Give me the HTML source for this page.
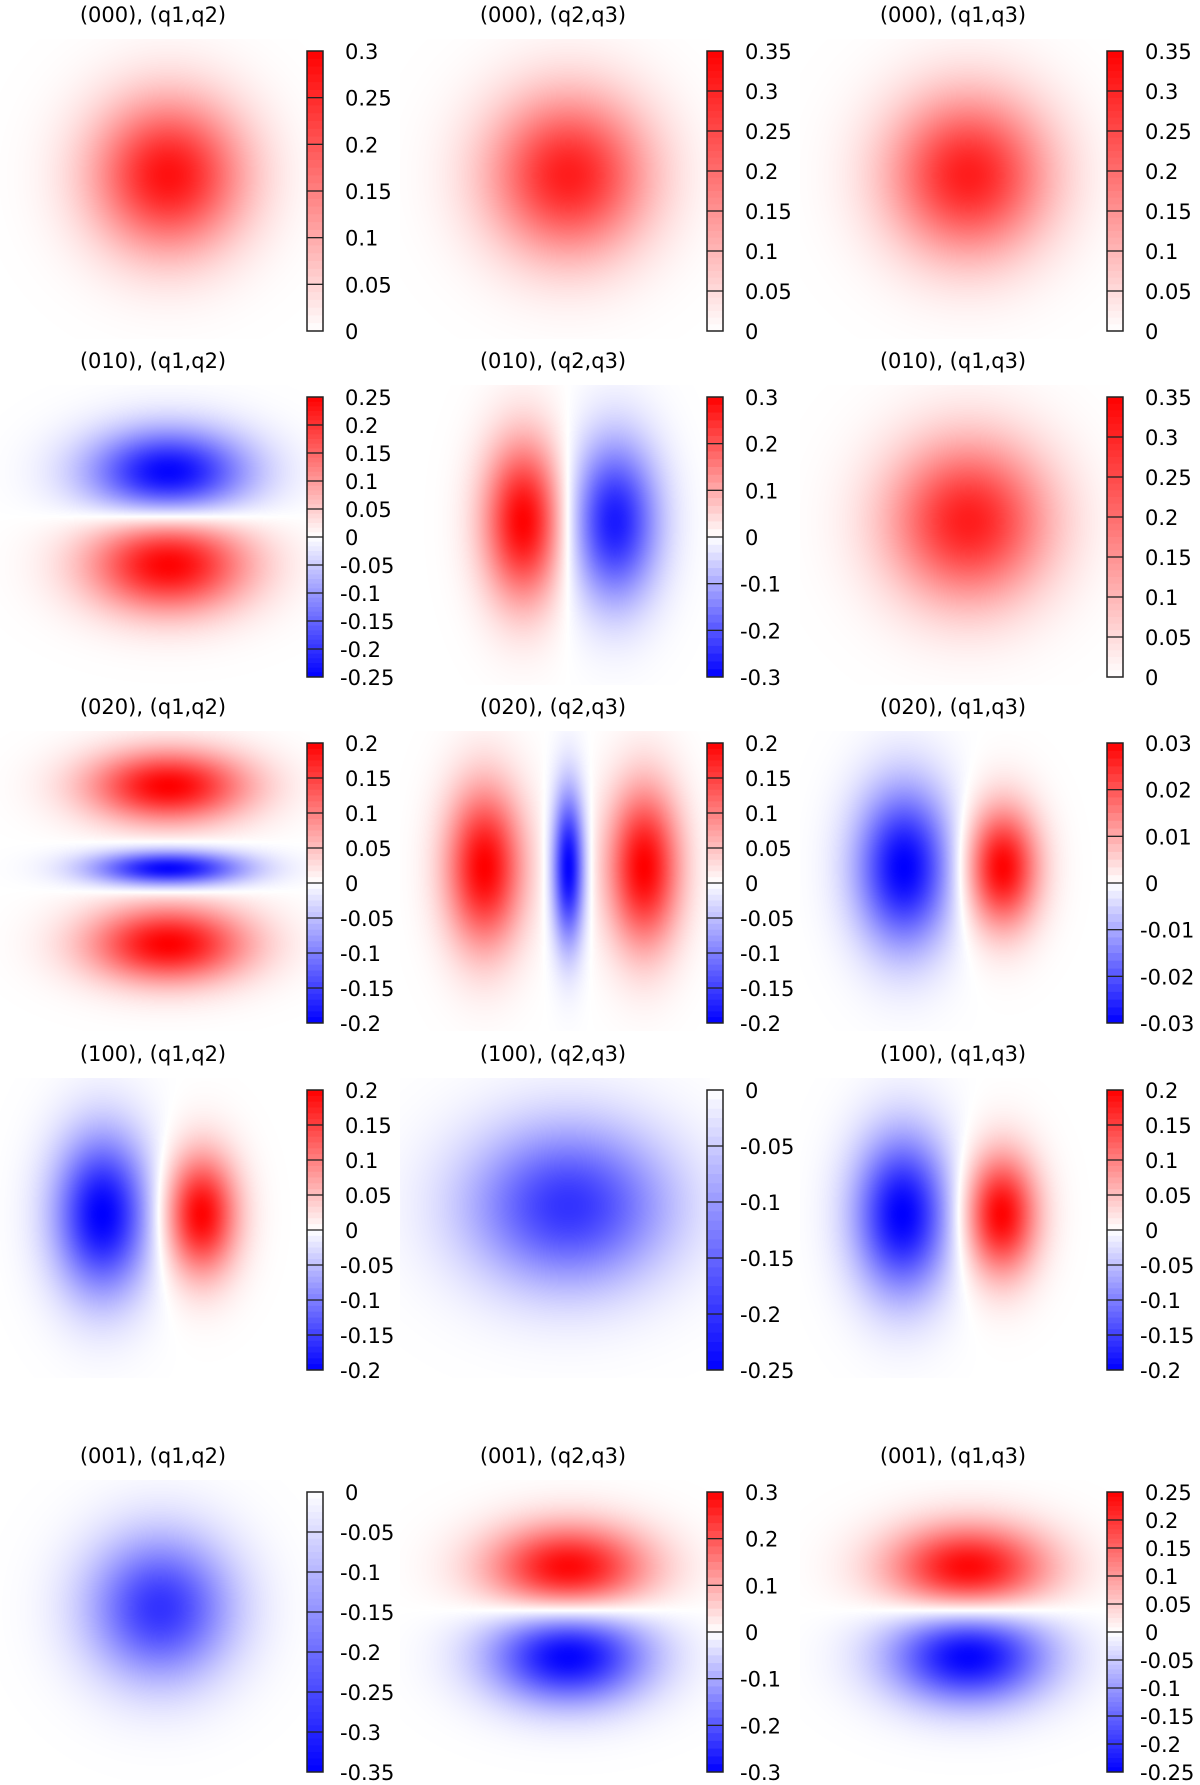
<!DOCTYPE html>
<html><head><meta charset="utf-8">
<style>
html,body{margin:0;padding:0;background:#fff;width:1200px;height:1785px;overflow:hidden}
#root{position:relative;width:1200px;height:1785px}
canvas{position:absolute}
svg{position:absolute;left:0;top:0}
</style></head>
<body>
<div id="root">
<svg id="svg" width="1200" height="1785"></svg>
</div>
<script>
// Panel titles
const titles = ["(000), (q1,q2)","(000), (q2,q3)","(000), (q1,q3)",
"(010), (q1,q2)","(010), (q2,q3)","(010), (q1,q3)",
"(020), (q1,q2)","(020), (q2,q3)","(020), (q1,q3)",
"(100), (q1,q2)","(100), (q2,q3)","(100), (q1,q3)",
"(001), (q1,q2)","(001), (q2,q3)","(001), (q1,q3)"];
// Colorbar tick labels (top to bottom), per panel
const ticks = [
["0.3","0.25","0.2","0.15","0.1","0.05","0"],
["0.35","0.3","0.25","0.2","0.15","0.1","0.05","0"],
["0.35","0.3","0.25","0.2","0.15","0.1","0.05","0"],
["0.25","0.2","0.15","0.1","0.05","0","-0.05","-0.1","-0.15","-0.2","-0.25"],
["0.3","0.2","0.1","0","-0.1","-0.2","-0.3"],
["0.35","0.3","0.25","0.2","0.15","0.1","0.05","0"],
["0.2","0.15","0.1","0.05","0","-0.05","-0.1","-0.15","-0.2"],
["0.2","0.15","0.1","0.05","0","-0.05","-0.1","-0.15","-0.2"],
["0.03","0.02","0.01","0","-0.01","-0.02","-0.03"],
["0.2","0.15","0.1","0.05","0","-0.05","-0.1","-0.15","-0.2"],
["0","-0.05","-0.1","-0.15","-0.2","-0.25"],
["0.2","0.15","0.1","0.05","0","-0.05","-0.1","-0.15","-0.2"],
["0","-0.05","-0.1","-0.15","-0.2","-0.25","-0.3","-0.35"],
["0.3","0.2","0.1","0","-0.1","-0.2","-0.3"],
["0.25","0.2","0.15","0.1","0.05","0","-0.05","-0.1","-0.15","-0.2","-0.25"]];
// Gaussian lobes per panel: [amplitude, cx, cy, sx, sy] in q units (y positive downward)
const lobes = [
[[0.28,0,0,0.95,0.95]],
[[0.31,0,0,1.0,1.0]],
[[0.31,0,0,1.0,1.0]],
[[-0.25,0,-0.86,1.0,0.55],[0.25,0,0.76,1.0,0.6]],
[[0.3,-0.8,0,0.5,1.0],[-0.27,0.82,0,0.55,1.0]],
[[0.31,0,0,1.0,1.0]],
[[0.2,0,-1.45,1.0,0.45],[-0.2,0,0.02,0.95,0.22],[0.2,0,1.37,1.0,0.48]],
[[0.2,-1.5,0,0.48,1.0],[-0.2,0,0,0.2,0.95],[0.2,1.35,0,0.45,1.0]],
[[-0.03,-1.15,0,0.6,1.0],[0.03,0.6,0,0.45,0.75]],
[[-0.2,-1.18,0,0.6,1.0],[0.2,0.58,0,0.45,0.75]],
[[-0.2,0,-0.15,1.25,1.0]],
[[-0.2,-1.18,0,0.6,1.0],[0.2,0.58,0,0.45,0.75]],
[[-0.28,-0.15,-0.15,0.9,0.9]],
[[0.3,0,-0.85,1.0,0.55],[-0.3,0,0.7,1.0,0.6]],
[[0.25,0,-0.85,1.0,0.55],[-0.25,0,0.7,1.0,0.6]]];

const colX=[0,400,800];
const cbTop=[51,397,743,1090,1492];
const cbH=280, cbW=16, cbOff=307;
const NS="http://www.w3.org/2000/svg";
const svg=document.getElementById('svg');
const root=document.getElementById('root');
const FONT='"DejaVu Sans","Liberation Sans",sans-serif';
function colorOf(v,vmax,vmin){
  let t;
  if(v>=0){t=vmax>0?Math.min(1,v/vmax):0;return [255,255*(1-t),255*(1-t)];}
  t=vmin<0?Math.min(1,v/vmin):0;return [255*(1-t),255*(1-t),255];
}
for(let p=0;p<15;p++){
  const r=Math.floor(p/3),c=p%3;
  const x0=colX[c], y0=cbTop[r];
  const tk=ticks[p].map(Number);
  const vmax=tk[0], vmin=tk[tk.length-1];
  const cxPix=x0+168, cyPix=y0+124, scale=56;
  const qx=px=>(px-cxPix)/scale, qy=py=>(py-cyPix)/scale;
  const W=310,H=300, left=x0, top=y0-12;
  const cv=document.createElement('canvas');
  cv.width=W;cv.height=H;cv.style.left=left+'px';cv.style.top=top+'px';
  
  
  root.insertBefore(cv,svg);
  const ctx=cv.getContext('2d');const img=ctx.createImageData(W,H);
  for(let j=0;j<H;j++)for(let i=0;i<W;i++){
    const X=qx(left+i),Y=qy(top+j);
    let v=0;
    for(const L of lobes[p]){const dx=(X-L[1])/L[3],dy=(Y-L[2])/L[4];v+=L[0]*Math.exp(-0.5*(dx*dx+dy*dy));}
    const col=colorOf(v,vmax,vmin);const k=(j*W+i)*4;
    img.data[k]=col[0];img.data[k+1]=col[1];img.data[k+2]=col[2];img.data[k+3]=255;
  }
  ctx.putImageData(img,0,0);
  const t=document.createElementNS(NS,'text');
  t.setAttribute('x',x0+153);t.setAttribute('y',y0-29);
  t.setAttribute('text-anchor','middle');t.setAttribute('font-size','21');
  t.setAttribute('font-family',FONT);t.textContent=titles[p];
  
  
  svg.appendChild(t);
  const cbx=x0+cbOff;
  const yOf=v=>y0+(vmax-v)/(vmax-vmin)*cbH;
  const n=tk.length-1;
  for(let b=0;b<n;b++){
    const steps=6;
    for(let s=0;s<steps;s++){
      const vA=tk[b]+(tk[b+1]-tk[b])*s/steps, vB=tk[b]+(tk[b+1]-tk[b])*(s+1)/steps;
      const cc=colorOf((vA+vB)/2,vmax,vmin);
      const rc=document.createElementNS(NS,'rect');
      rc.setAttribute('x',cbx);rc.setAttribute('y',yOf(vA));rc.setAttribute('width',cbW);
      rc.setAttribute('height',Math.abs(yOf(vB)-yOf(vA))+0.5);
      rc.setAttribute('fill','rgb('+cc.map(Math.round).join(',')+')');
      
      
      svg.appendChild(rc);
    }
  }
  for(let b=0;b<=n;b++){
    const yy=yOf(tk[b]);
    if(b>0&&b<n){const ln=document.createElementNS(NS,'line');
      ln.setAttribute('x1',cbx);ln.setAttribute('x2',cbx+cbW);ln.setAttribute('y1',yy);ln.setAttribute('y2',yy);
      ln.setAttribute('stroke','#222');ln.setAttribute('stroke-width','1.3');
      
      
      svg.appendChild(ln);}
    const lb=document.createElementNS(NS,'text');
    lb.setAttribute('x',cbx+(tk[b]<0?33:38));lb.setAttribute('y',yy+8);
    lb.setAttribute('font-size','21');lb.setAttribute('font-family',FONT);
    lb.textContent=ticks[p][b];
    
    
    svg.appendChild(lb);
  }
  const fr=document.createElementNS(NS,'rect');
  fr.setAttribute('x',cbx);fr.setAttribute('y',y0);fr.setAttribute('width',cbW);fr.setAttribute('height',cbH);
  fr.setAttribute('fill','none');fr.setAttribute('stroke','#222');fr.setAttribute('stroke-width','1.5');
  
  
  svg.appendChild(fr);
}
</script>
</body></html>
